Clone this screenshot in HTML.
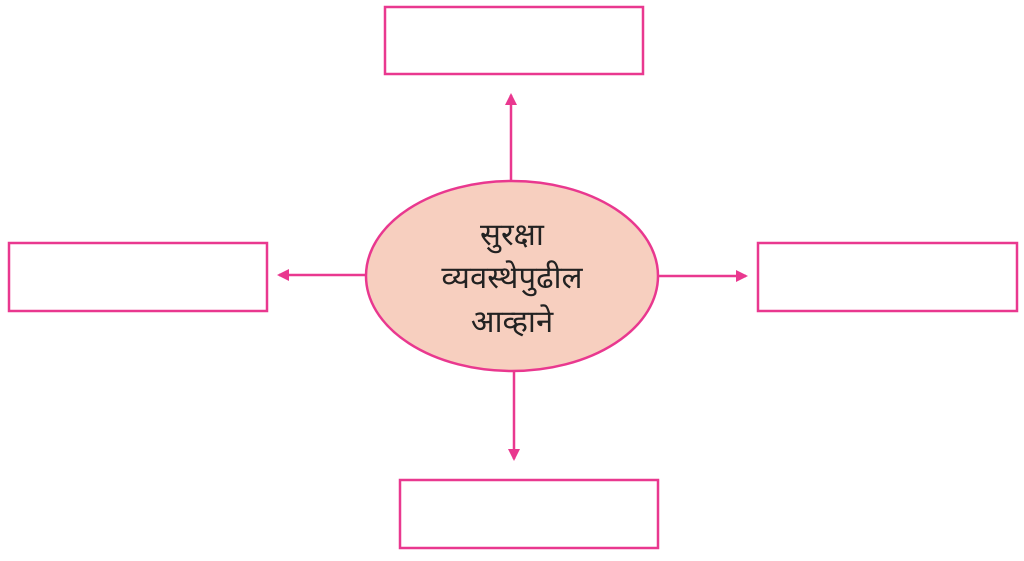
<!DOCTYPE html>
<html><head><meta charset="utf-8"><style>
html,body{margin:0;padding:0;background:#fff;width:1024px;height:561px;overflow:hidden}
</style></head><body>
<svg width="1024" height="561" viewBox="0 0 1024 561" xmlns="http://www.w3.org/2000/svg">
<defs><marker id="a" markerWidth="12" markerHeight="12" refX="10" refY="6" orient="auto" markerUnits="userSpaceOnUse"><path d="M0,0 L12,6 L0,12 z" fill="#e9388f"/></marker></defs>
<g fill="none" stroke="#e9388f" stroke-width="2.5">
<rect x="385" y="7" width="258" height="67"/>
<rect x="9" y="243" width="258" height="68"/>
<rect x="758" y="243" width="259" height="68"/>
<rect x="400" y="480" width="258" height="68"/>
<line x1="511" y1="181" x2="511" y2="95" marker-end="url(#a)"/>
<line x1="366" y1="275" x2="279" y2="275" marker-end="url(#a)"/>
<line x1="658" y1="276" x2="746" y2="276" marker-end="url(#a)"/>
<line x1="514" y1="371" x2="514" y2="459" marker-end="url(#a)"/>
</g>
<ellipse cx="512" cy="276" rx="146" ry="95" fill="#f7cfbf" stroke="#e9388f" stroke-width="2.5"/>
<g font-family="'Liberation Sans', sans-serif" font-size="31" fill="#222" text-anchor="middle">
<text x="512" y="245">सुरक्षा</text>
<text x="512" y="288">व्यवस्थेपुढील</text>
<text x="512" y="332">आव्हाने</text>
</g>
</svg>
</body></html>
